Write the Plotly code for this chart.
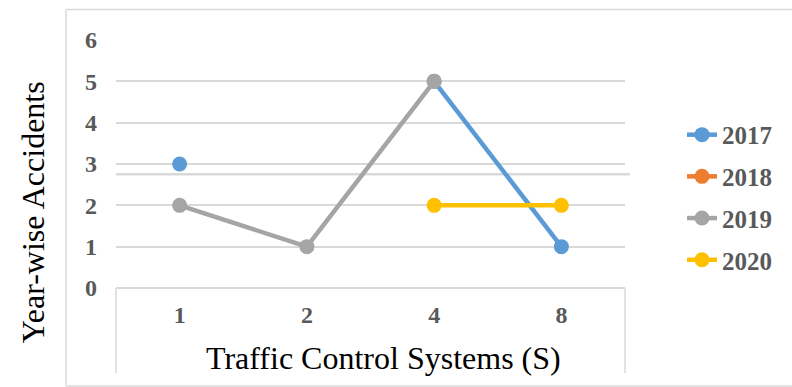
import plotly.graph_objects as go

# Number of traffic control systems (categorical x axis)
systems = ["1", "2", "4", "8"]

# Accidents per year; None = no record for that system
acc_2017 = [3, None, 5, 1]
acc_2018 = [None, None, None, None]
acc_2019 = [2, 1, 5, None]
acc_2020 = [None, None, 2, 2]

series = [
    ("2017", acc_2017, "#5b9bd5"),
    ("2018", acc_2018, "#ed7d31"),
    ("2019", acc_2019, "#a5a5a5"),
    ("2020", acc_2020, "#ffc000"),
]

GRID = "#d9d9d9"
SERIF = "Liberation Serif"
TICK_FONT = dict(family=SERIF, size=24, color="#595959", weight="bold")

fig = go.Figure()
for name, vals, color in series:
    fig.add_trace(go.Scatter(
        x=systems, y=vals, name=name, legendgroup=name,
        mode="lines+markers", connectgaps=False,
        line=dict(color=color, width=4.5),
        marker=dict(color=color, size=15),
    ))

fig.update_layout(
    width=792, height=387,
    margin=dict(l=116, r=167, t=40, b=99),
    paper_bgcolor="white", plot_bgcolor="white",
    showlegend=True,
    legend=dict(
        x=1.112, xanchor="left", y=0.71, yanchor="top",
        font=dict(family=SERIF, size=25, color="#595959", weight="bold"),
        traceorder="grouped", tracegroupgap=6.2,
        itemwidth=30,
    ),
    xaxis=dict(
        type="category", range=[-0.5, 3.5],
        showgrid=False, zeroline=False, showline=False,
        ticks="", ticklabelstandoff=10,
        tickfont=TICK_FONT,
    ),
    yaxis=dict(
        range=[0, 6], dtick=1,
        showgrid=True, gridcolor=GRID, gridwidth=1.5,
        zeroline=True, zerolinecolor=GRID, zerolinewidth=1.5,
        showline=False, ticks="", ticklabelstandoff=18,
        tickfont=TICK_FONT,
    ),
    annotations=[
        dict(text="Traffic Control Systems (S)", xref="paper", yref="paper",
             x=0.525, y=-0.282, xanchor="center", yanchor="middle",
             showarrow=False, font=dict(family=SERIF, size=32, color="black")),
        dict(text="Year-wise Accidents", xref="paper", yref="paper",
             x=-0.163, y=0.306, xanchor="center", yanchor="middle",
             textangle=-90, showarrow=False,
             font=dict(family=SERIF, size=32, color="black")),
    ],
    shapes=[
        # outer chart frame: left, top and bottom edges (right edge runs off the page)
        dict(type="line", xref="paper", yref="paper",
             x0=-0.0982, x1=-0.0982, y0=-0.395, y1=1.123,
             line=dict(color=GRID, width=1.5)),
        dict(type="line", xref="paper", yref="paper",
             x0=-0.0982, x1=1.4, y0=1.123, y1=1.123,
             line=dict(color=GRID, width=1.5)),
        dict(type="line", xref="paper", yref="paper",
             x0=-0.0982, x1=1.4, y0=-0.395, y1=-0.395,
             line=dict(color=GRID, width=1.5)),
        # category-axis box sides
        dict(type="line", xref="x domain", yref="y domain",
             x0=0, x1=0, y0=0, y1=-0.343, line=dict(color=GRID, width=1.5)),
        dict(type="line", xref="x domain", yref="y domain",
             x0=1, x1=1, y0=0, y1=-0.343, line=dict(color=GRID, width=1.5)),
        # extra horizontal rule across the plot
        dict(type="line", xref="x domain", yref="y",
             x0=0, x1=1.0098, y0=2.75, y1=2.75,
             line=dict(color=GRID, width=2.5), layer="below"),
    ],
)

fig.write_html("out.html")
